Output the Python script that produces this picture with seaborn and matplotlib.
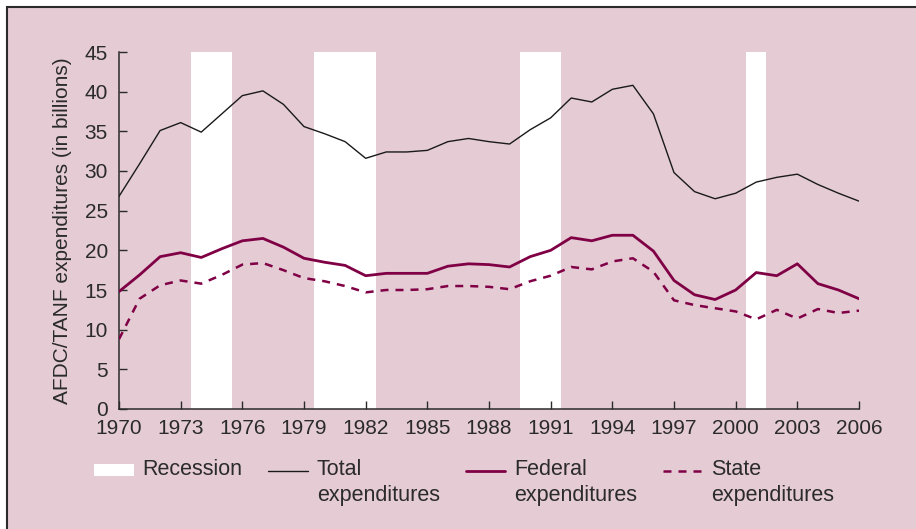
"""
AFDC/TANF expenditures 1970-2006: total, federal and state spending,
with recession periods shaded.
"""

import matplotlib
matplotlib.use("Agg")
import matplotlib.pyplot as plt
import numpy as np
import pandas as pd
import seaborn as sns
from matplotlib.lines import Line2D
from matplotlib.patches import Patch, Rectangle

YEARS = list(range(1970, 2007))
TOTAL = [26.8, 30.9, 35.1, 36.1, 34.9, 37.2, 39.5, 40.1, 38.4, 35.6,
         34.7, 33.7, 31.6, 32.4, 32.4, 32.6, 33.7, 34.1, 33.7, 33.4,
         35.2, 36.7, 39.2, 38.7, 40.3, 40.8, 37.2, 29.8, 27.4, 26.5,
         27.2, 28.6, 29.2, 29.6, 28.3, 27.2, 26.2]
FEDERAL = [14.8, 16.9, 19.2, 19.7, 19.1, 20.2, 21.2, 21.5, 20.4, 19.0,
           18.5, 18.1, 16.8, 17.1, 17.1, 17.1, 18.0, 18.3, 18.2, 17.9,
           19.2, 20.0, 21.6, 21.2, 21.9, 21.9, 19.9, 16.2, 14.4, 13.8,
           15.0, 17.2, 16.8, 18.3, 15.8, 15.0, 13.9]
STATE = [8.8, 13.9, 15.6, 16.2, 15.8, 16.9, 18.2, 18.4, 17.5, 16.5,
         16.1, 15.5, 14.7, 15.0, 15.0, 15.1, 15.5, 15.5, 15.4, 15.1,
         16.1, 16.8, 17.9, 17.6, 18.6, 19.0, 17.3, 13.7, 13.1, 12.7,
         12.3, 11.3, 12.5, 11.4, 12.6, 12.1, 12.4]
RECESSION_START = [1973.5, 1979.5, 1989.5, 2000.5]
RECESSION_END = [1975.5, 1982.5, 1991.5, 2001.5]
X_TICKS = list(range(1970, 2007, 3))
Y_TICKS = list(range(0, 46, 5))

PINK = "#e4cbd4"
MAROON = "#800045"
DARK = "#2b2b2b"
FS = 15
LEG_FS = 15.5

sns.set_style("ticks")
plt.rcParams["font.family"] = ["Liberation Sans", "DejaVu Sans"]
plt.rcParams["text.color"] = DARK
plt.rcParams["axes.labelcolor"] = DARK


def main():
    df = pd.DataFrame({"year": YEARS, "total": TOTAL,
                       "federal": FEDERAL, "state": STATE})

    fig = plt.figure(figsize=(9.16, 5.29), dpi=100, facecolor="white")
    # pink panel with a dark rule along the top and left edges
    fig.add_artist(Rectangle((7 / 916, -0.1), 1.2, 1.1 - 7 / 529,
                             transform=fig.transFigure, facecolor=PINK,
                             edgecolor=DARK, linewidth=1.5, zorder=-1))
    ax = fig.add_axes([119 / 916, 1 - 409 / 529, 740 / 916, 357 / 529])
    ax.set_facecolor("none")

    for start, end in zip(RECESSION_START, RECESSION_END):
        ax.axvspan(start, end, color="white", lw=0, zorder=0)

    sns.lineplot(data=df, x="year", y="total", ax=ax, color="#1a1a1a",
                 linewidth=1.0, zorder=3)
    sns.lineplot(data=df, x="year", y="federal", ax=ax, color=MAROON,
                 linewidth=2.0, zorder=3)
    sns.lineplot(data=df, x="year", y="state", ax=ax, color=MAROON,
                 linewidth=1.8, linestyle=(0, (3.2, 2.8)), zorder=3)

    ax.set_xlim(1970, 2006)
    ax.set_ylim(0, 45)
    ax.set_xticks(X_TICKS)
    ax.set_yticks(Y_TICKS)
    ax.set_xlabel("")
    ax.set_ylabel("AFDC/TANF expenditures (in billions)", fontsize=FS,
                  labelpad=9)
    ax.tick_params(direction="in", length=5.5, width=1, color=DARK,
                   labelsize=FS, labelcolor=DARK)
    ax.tick_params(axis="y", pad=8)
    ax.tick_params(axis="x", pad=7)
    sns.despine(ax=ax)
    for side in ("left", "bottom"):
        ax.spines[side].set_color(DARK)
        ax.spines[side].set_linewidth(1.1)

    handles = [
        Patch(facecolor="white", edgecolor="none"),
        Line2D([], [], color="#1a1a1a", linewidth=1.0),
        Line2D([], [], color=MAROON, linewidth=2.0),
        Line2D([], [], color=MAROON, linewidth=1.8, linestyle=(0, (3.2, 2.8))),
    ]
    labels = ["Recession\n ", "Total\nexpenditures",
              "Federal\nexpenditures", "State\nexpenditures"]
    leg = fig.legend(handles, labels, ncol=4, frameon=False, fontsize=LEG_FS,
                     loc="upper left", bbox_to_anchor=(94 / 916, 1 - 459 / 529),
                     borderpad=0, borderaxespad=0, handlelength=1.85,
                     handleheight=0.5, handletextpad=0.4, columnspacing=1.2)
    for t in leg.get_texts():
        t.set_linespacing(1.3)
    # lift the handles so they sit level with the first label line
    shift = 0.6 * LEG_FS
    for h in leg.legend_handles:
        if isinstance(h, Line2D):
            h.set_ydata(np.asarray(h.get_ydata()) + shift)
        else:
            h.set_y(h.get_y() + shift)

    fig.savefig("out.png", dpi=100, facecolor="white")
    plt.close(fig)


if __name__ == "__main__":
    main()
